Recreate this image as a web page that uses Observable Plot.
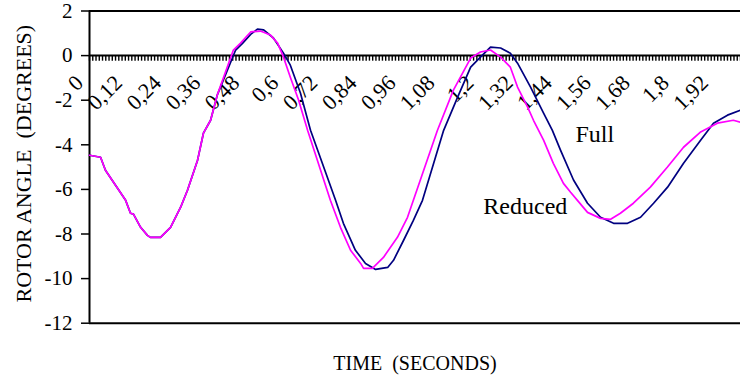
<!DOCTYPE html>
<html><head><meta charset="utf-8">
<script src="https://cdn.jsdelivr.net/npm/d3@7"></script>
<script src="https://cdn.jsdelivr.net/npm/@observablehq/plot@0.6"></script>
<style>body{margin:0;background:#fff} svg, svg text{font-family:"Liberation Serif","Times New Roman",serif !important}</style>
</head><body><div id="chart"></div>
<script>
// Full model (navy)
const fullTime = [0, 0.034, 0.049, 0.080, 0.111, 0.126, 0.135, 0.157, 0.178, 0.187, 0.218, 0.249, 0.280, 0.301, 0.332, 0.350, 0.372, 0.393,
  0.449, 0.470, 0.495, 0.516, 0.535, 0.565, 0.596, 0.617, 0.648, 0.679, 0.756, 0.780, 0.817, 0.848, 0.879, 0.916, 0.934, 0.965, 0.995, 1.023,
  1.088, 1.131, 1.171, 1.201, 1.232, 1.263, 1.293, 1.315, 1.355, 1.395, 1.422, 1.447, 1.487, 1.530, 1.570, 1.610, 1.653, 1.693, 1.733, 1.776,
  1.825, 1.878, 1.917, 1.960, 2.0];
const fullAngle = [-4.47, -4.56, -5.14, -5.81, -6.49, -7.07, -7.11, -7.70, -8.06, -8.15, -8.15, -7.70, -6.80, -6.04, -4.69, -3.48, -2.90, -1.75,
  0.25, 0.55, 0.95, 1.19, 1.15, 0.79, 0.11, -0.43, -1.68, -3.35, -6.49, -7.52, -8.73, -9.32, -9.59, -9.50, -9.18, -8.28, -7.39, -6.49,
  -3.35, -1.86, -0.52, -0.07, 0.38, 0.34, 0.11, -0.34, -1.41, -2.58, -3.35, -4.24, -5.58, -6.62, -7.25, -7.52, -7.52, -7.25, -6.62, -5.90,
  -4.83, -3.79, -3.03, -2.67, -2.45];
// Reduced model (magenta)
const reducedTime = [0, 0.034, 0.049, 0.080, 0.111, 0.126, 0.135, 0.157, 0.178, 0.187, 0.218, 0.249, 0.280, 0.301, 0.332, 0.350, 0.372, 0.393,
  0.442, 0.464, 0.495, 0.525, 0.556, 0.578, 0.596, 0.617, 0.642, 0.670, 0.740, 0.771, 0.802, 0.833, 0.842, 0.869, 0.903, 0.946, 0.977, 0.995,
  1.069, 1.118, 1.171, 1.201, 1.232, 1.263, 1.293, 1.315, 1.346, 1.364, 1.395, 1.425, 1.456, 1.478, 1.499, 1.530, 1.570, 1.601, 1.631, 1.671,
  1.723, 1.775, 1.825, 1.876, 1.929, 1.978, 2.0];
const reducedAngle = [-4.47, -4.56, -5.14, -5.81, -6.49, -7.07, -7.11, -7.70, -8.06, -8.15, -8.15, -7.70, -6.80, -6.04, -4.69, -3.48, -2.90, -1.75,
  0.25, 0.56, 1.06, 1.10, 0.92, 0.56, -0.07, -0.97, -1.98, -3.35, -6.49, -7.70, -8.73, -9.32, -9.54, -9.54, -9.05, -8.15, -7.25, -6.49,
  -3.35, -1.55, -0.11, 0.16, 0.25, -0.07, -0.52, -1.41, -2.31, -2.90, -3.79, -4.83, -5.73, -6.13, -6.49, -7.03, -7.30, -7.34, -7.07, -6.62,
  -5.90, -5.01, -4.11, -3.44, -3.03, -2.90, -2.99];

const yTicks = [2, 0, -2, -4, -6, -8, -10, -12];
const xLabelTimes = [0, 0.12, 0.24, 0.36, 0.48, 0.6, 0.72, 0.84, 0.96, 1.08, 1.2, 1.32, 1.44, 1.56, 1.68, 1.8, 1.92];
const xLabelTexts = ["0", "0,12", "0,24", "0,36", "0,48", "0,6", "0,72", "0,84", "0,96", "1,08", "1,2", "1,32", "1,44", "1,56", "1,68", "1,8", "1,92"];
const xTimeStep = 0.01;   // one category tick per sample
const xTimeEnd = 2.0;
const seriesNames = ["Full", "Reduced"];
const seriesLabelTime = [1.493, 1.210];
const seriesLabelAngle = [-3.88, -7.12];
const xTitle = "TIME\u00a0\u00a0(SECONDS)";
const yTitle = "ROTOR ANGLE\u00a0\u00a0(DEGREES)";

const serif = "Liberation Serif";
const full = fullTime.map((t, i) => ({t, v: fullAngle[i]}));
const reduced = reducedTime.map((t, i) => ({t, v: reducedAngle[i]}));
const labels = xLabelTimes.map((t, i) => ({t, text: xLabelTexts[i]}));
const minorTicks = d3.range(0, Math.round(xTimeEnd / xTimeStep) + 1).map(i => i * xTimeStep);
const seriesLabels = seriesNames.map((name, i) => ({name, t: seriesLabelTime[i], v: seriesLabelAngle[i]}));

const chart = Plot.plot({
  width: 740,
  height: 378,
  marginLeft: 89,
  marginRight: 0,
  marginTop: 10.5,
  marginBottom: 55.3,
  style: {fontFamily: serif, fontSize: "20px", background: "white", color: "black"},
  x: {domain: [0, xTimeEnd], axis: null},
  y: {domain: d3.extent(yTicks)},
  marks: [
    Plot.ruleY(d3.extent(yTicks), {stroke: "black", strokeWidth: 2}),
    Plot.ruleX([xLabelTimes[0]], {stroke: "black", strokeWidth: 2}),
    Plot.axisY(yTicks, {tickSize: 8, tickPadding: 9, fontSize: 21, fontFamily: serif, tickFormat: d => String(d), label: null, strokeWidth: 1.5}),
    Plot.ruleX(minorTicks, {x: d => d, y1: 0, y2: -0.25, stroke: "black", strokeWidth: 1.4}),
    Plot.ruleY([0], {stroke: "black", strokeWidth: 2}),
    Plot.text(labels, {x: "t", y: () => 0, text: "text", rotate: -45, textAnchor: "end", lineAnchor: "bottom", dx: -5, dy: 28.5, fontSize: 22, fontFamily: serif, fill: "black"}),
    Plot.line(full, {x: "t", y: "v", stroke: "#000080", strokeWidth: 1.7}),
    Plot.line(reduced, {x: "t", y: "v", stroke: "#ff00ff", strokeWidth: 1.7}),
    Plot.text(seriesLabels, {x: "t", y: "v", text: "name", textAnchor: "start", lineAnchor: "bottom", fontSize: 24, fontFamily: serif, fill: "black", stroke: "white", strokeWidth: 3}),
    Plot.text([xTitle], {frameAnchor: "bottom", lineAnchor: "bottom", dy: 47, fontSize: 20, fontFamily: serif, fill: "black"}),
    Plot.text([yTitle], {frameAnchor: "left", rotate: -90, textAnchor: "start", lineAnchor: "bottom", dx: -59, dy: 135.4, fontSize: 22, fontFamily: serif, fill: "black"})
  ]
});
document.getElementById("chart").appendChild(chart);
</script>
</body></html>
